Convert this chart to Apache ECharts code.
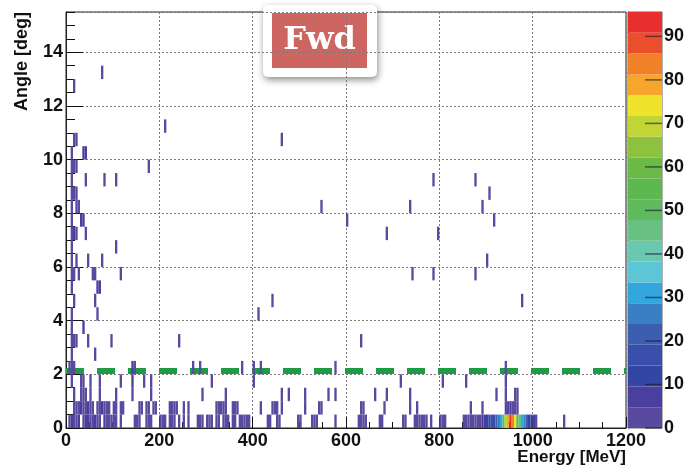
<!DOCTYPE html>
<html>
<head>
<meta charset="utf-8">
<script src="https://cdn.jsdelivr.net/npm/echarts@6/dist/echarts.min.js"></script>
<style>
  html, body { margin: 0; padding: 0; background: #fff; }
  #chart { width: 688px; height: 472px; }
</style>
</head>
<body>
<div id="chart"></div>
<script>
// ---- binning of the 2D histogram ----
const E_MIN = 0, E_MAX = 1200, E_BIN = 5;      // energy [MeV]
const A_MIN = 0, A_MAX = 15.5, A_BIN = 0.5;    // angle [deg]
const Z_MAX = 95.6, N_CONTOURS = 20;           // colour scale
const CUT_ANGLE = 2.12;                        // dashed selection line

const energyTickStep = 200;
const angleTickStep = 2;
const zTicks = [0, 10, 20, 30, 40, 50, 60, 70, 80, 90];

// palette, lowest contour first
const palette = [
  '#5a4a9f', '#4a3f9f', '#3346a3', '#3a4fab', '#3d5db1',
  '#3a7fc3', '#33a6dd', '#5cc6d7', '#6ac8b0', '#68c083',
  '#5fba5e', '#5db850', '#6cba46', '#8ec23e', '#c2d536',
  '#efe32c', '#f6a62a', '#f18128', '#eb4e2c', '#e7302e'
];

// ---- bin contents: per angle bin, [energy bin low edge, counts] ----
const ang00 = [[5,3],[10,5],[15,4],[20,3],[25,6],[35,4],[40,7],[45,5],[50,3],[55,4],[60,6],[65,3],[70,4],[80,5],[85,3],[90,4],[95,2],[100,3],[105,2],[115,2],
  [145,2],[150,3],[155,2],[170,3],[175,2],[180,2],[200,3],[205,2],[210,3],[220,2],[225,2],[230,3],[240,2],[250,3],[260,2],[280,2],[285,3],[290,2],[300,2],[305,3],[310,2],
  [320,3],[325,2],[335,2],[340,3],[345,2],[355,3],[360,2],[370,3],[375,2],[380,3],[385,3],[390,2],[430,3],[435,2],[450,1],[455,2],[495,1],[500,2],[525,3],[530,2],[535,3],
  [575,2],[625,2],[630,3],[635,2],[640,2],[670,3],[675,2],[720,3],[725,2],[745,3],[750,2],[755,3],[760,2],[765,3],[770,2],[780,3],[800,2],[805,3],[810,2],
  [850,3],[855,3],[860,4],[865,3],[870,4],[875,4],[880,4],[885,4],[890,7],[895,8],[900,11],[905,13],[910,15],[915,17],[920,21],[925,27],[930,32],[935,50],
  [940,68],[945,80],[950,93],[955,82],[960,73],[965,55],[970,45],[975,31],[980,26],[985,20],[990,14],[995,10],[1000,6],[1005,4],[1065,2]];
const ang05 = [[15,3],[20,4],[25,3],[30,5],[35,4],[40,3],[45,6],[50,4],[55,3],[65,4],[70,3],[75,5],[80,4],[85,3],[90,3],[100,2],[105,3],[115,2],[120,2],
  [155,2],[160,3],[170,2],[175,3],[185,1],[190,2],[220,3],[225,2],[230,3],[235,2],[250,2],[260,2],[320,3],[325,2],[330,3],[335,2],[340,3],[355,2],[360,3],[365,2],
  [415,1],[440,2],[445,2],[450,1],[460,2],[510,2],[540,2],[545,1],[630,2],[635,2],[680,2],[735,2],[750,2],[865,2],[890,2],[940,3],[945,4],[950,6],[955,4],[960,3],[965,1]];
const ang10 = [[15,2],[30,3],[35,2],[40,2],[50,3],[70,2],[105,2],[140,2],[180,1],[290,2],[340,2],[460,2],[475,2],[510,2],[560,2],[575,2],[660,1],[685,2],[735,2],[920,1],[940,2],[960,2],[965,1]];
const ang15 = [[10,2],[30,3],[35,2],[50,2],[70,2],[115,2],[140,6],[165,2],[180,2],[310,2],[400,2],[715,2],[805,2],[855,2],[940,2]];
const ang20 = [[5,2],[10,3],[15,2],[140,6],[145,2],[270,2],[285,2],[375,2],[400,3],[415,2],[575,3],[940,2]];
const ang25 = [[10,2],[60,2]];
const ang30 = [[10,2],[15,2],[20,2],[45,2],[95,2],[240,1],[630,2]];
const ang35 = [[10,2],[35,6]];
const ang40 = [[10,2],[65,2],[410,1]];
const ang45 = [[15,2],[60,2],[440,1],[975,1]];
const ang50 = [[10,2],[65,6],[70,6]];
const ang55 = [[10,2],[15,2],[25,2],[55,1],[60,2],[115,1],[740,2],[785,2],[875,2]];
const ang60 = [[10,2],[20,2],[45,2],[75,1],[900,1]];
const ang65 = [[10,2],[105,2]];
const ang70 = [[10,2],[15,6],[20,3],[40,2],[685,1],[795,2]];
const ang75 = [[10,2],[30,6],[35,6],[600,2],[915,2]];
const ang80 = [[10,2],[20,2],[25,2],[545,2],[735,1],[890,2]];
const ang85 = [[10,2],[15,2],[20,2],[905,1]];
const ang90 = [[10,2],[40,2],[80,2],[105,2],[785,2],[875,2]];
const ang95 = [[10,2],[15,2],[20,2],[175,2]];
const ang100 = [[10,2],[35,7],[40,7]];
const ang105 = [[15,2],[20,2],[460,2]];
const ang110 = [[210,1]];
const ang125 = [[15,2]];
const ang130 = [[75,1]];

const angleRows = [
  [0.0, ang00], [0.5, ang05], [1.0, ang10], [1.5, ang15], [2.0, ang20], [2.5, ang25],
  [3.0, ang30], [3.5, ang35], [4.0, ang40], [4.5, ang45], [5.0, ang50], [5.5, ang55],
  [6.0, ang60], [6.5, ang65], [7.0, ang70], [7.5, ang75], [8.0, ang80], [8.5, ang85],
  [9.0, ang90], [9.5, ang95], [10.0, ang100], [10.5, ang105], [11.0, ang110],
  [12.5, ang125], [13.0, ang130]
];

// flatten into [energy, angle, counts]
const cells = [];
angleRows.forEach(([a, list]) => list.forEach(([e, n]) => cells.push([e, a, n])));

const contourStep = Z_MAX / N_CONTOURS;
function colourFor(n) {
  return palette[Math.max(0, Math.min(N_CONTOURS - 1, Math.floor(n / contourStep)))];
}
const contourBands = palette.map((c, i) => [i]);

const labelFont = { fontFamily: 'Liberation Sans, Arial, sans-serif', fontWeight: 'bold', fontSize: 18, color: '#111' };
const gridDots = { color: '#7a7a7a', width: 1, type: [2, 2] };

const chart = echarts.init(document.getElementById('chart'), null, { renderer: 'canvas' });
chart.setOption({
  animation: false,
  backgroundColor: '#fff',
  grid: [
    { left: 66, top: 12, width: 560, height: 416, show: true, borderColor: '#222', borderWidth: 1, backgroundColor: 'transparent' },
    { left: 628, top: 12, width: 34, height: 416, show: true, borderColor: '#666', borderWidth: 1, backgroundColor: 'transparent' }
  ],
  xAxis: [
    {
      gridIndex: 0, type: 'value', min: E_MIN, max: E_MAX, interval: energyTickStep,
      axisLine: { show: true, lineStyle: { color: '#222', width: 1 } },
      axisTick: { show: true, inside: true, length: 11, lineStyle: { color: '#111', width: 1 } },
      minorTick: { show: true, splitNumber: 4, length: 6, lineStyle: { color: '#111', width: 1 } },
      axisLabel: Object.assign({ margin: 4, formatter: v => String(v) }, labelFont),
      splitLine: { show: true, lineStyle: gridDots }
    },
    {
      gridIndex: 1, type: 'value', min: 0, max: 1, show: false
    }
  ],
  yAxis: [
    {
      gridIndex: 0, type: 'value', min: A_MIN, max: A_MAX, interval: angleTickStep,
      axisLine: { show: true, lineStyle: { color: '#222', width: 1 } },
      axisTick: { show: true, inside: true, length: 17, lineStyle: { color: '#111', width: 1 } },
      axisLabel: Object.assign({ margin: 3, showMaxLabel: false }, labelFont),
      splitLine: { show: true, lineStyle: gridDots }
    },
    {
      gridIndex: 0, type: 'value', min: A_MIN, max: A_MAX, interval: A_BIN, position: 'left',
      axisLine: { show: false },
      axisTick: { show: true, inside: true, length: 9, lineStyle: { color: '#111', width: 1 } },
      axisLabel: { show: false },
      splitLine: { show: false }
    },
    {
      gridIndex: 1, type: 'value', min: 0, max: Z_MAX, interval: 10, position: 'right',
      axisLine: { show: true, lineStyle: { color: '#555', width: 1 } },
      axisTick: { show: false },
      axisLabel: Object.assign({ margin: 2, showMaxLabel: false }, labelFont),
      splitLine: { show: false }
    }
  ],
  series: [
    {
      // dashed selection cut
      type: 'line', xAxisIndex: 0, yAxisIndex: 0, z: 2,
      data: [[E_MIN, CUT_ANGLE], [E_MAX, CUT_ANGLE]],
      symbol: 'none', silent: true,
      lineStyle: { color: '#1f9a46', width: 6, type: [18, 13], cap: 'butt' }
    },
    {
      // histogram cells
      type: 'custom', xAxisIndex: 0, yAxisIndex: 0, z: 3,
      data: cells,
      encode: { x: 0, y: 1 },
      renderItem: function (params, api) {
        const e = api.value(0), a = api.value(1), n = api.value(2);
        const p0 = api.coord([e, a + A_BIN]);
        const p1 = api.coord([e + E_BIN, a]);
        return {
          type: 'rect',
          shape: { x: p0[0], y: p0[1], width: p1[0] - p0[0], height: p1[1] - p0[1] },
          style: { fill: colourFor(n) }
        };
      }
    },
    {
      // colour scale bands
      type: 'custom', xAxisIndex: 1, yAxisIndex: 2, z: 1,
      data: contourBands,
      renderItem: function (params, api) {
        const i = api.value(0);
        const p0 = api.coord([0, (i + 1) * contourStep]);
        const p1 = api.coord([1, i * contourStep]);
        return {
          type: 'rect',
          shape: { x: p0[0], y: p0[1], width: p1[0] - p0[0], height: p1[1] - p0[1] },
          style: { fill: palette[i] }
        };
      }
    },
    {
      // colour scale tick marks, pointing in from the right edge
      type: 'custom', xAxisIndex: 1, yAxisIndex: 2, z: 2,
      data: zTicks.map(v => [v]),
      renderItem: function (params, api) {
        const p = api.coord([1, api.value(0)]);
        return {
          type: 'line',
          shape: { x1: p[0] - 17, y1: p[1], x2: p[0], y2: p[1] },
          style: { stroke: 'rgba(20,20,50,0.6)', lineWidth: 1.5 }
        };
      }
    }
  ],
  graphic: [
    {
      type: 'text', x: 626, y: 449, z: 10,
      style: { text: 'Energy [MeV]', fill: '#111', font: 'bold 17px "Liberation Sans", Arial, sans-serif', align: 'right', verticalAlign: 'top' }
    },
    {
      type: 'text', x: 22, y: 12, rotation: Math.PI / 2, z: 10,
      style: { text: 'Angle [deg]', fill: '#111', font: 'bold 18px "Liberation Sans", Arial, sans-serif', align: 'right', verticalAlign: 'middle' }
    },
    {
      type: 'group', x: 263, y: 5, z: 20,
      children: [
        {
          type: 'rect', shape: { x: 0, y: 0, width: 114, height: 72, r: 5 },
          style: { fill: '#fff', shadowBlur: 7, shadowOffsetX: 1, shadowOffsetY: 3, shadowColor: 'rgba(0,0,0,0.45)' }
        },
        {
          type: 'rect', shape: { x: 9, y: 8, width: 95, height: 55 },
          style: { fill: '#cd6661' }
        },
        {
          type: 'text', x: 56.5, y: 36,
          style: { text: 'Fwd', fill: '#fff', font: 'bold 32px "DejaVu Serif", serif', align: 'center', verticalAlign: 'middle' }
        }
      ]
    }
  ]
});
</script>
</body>
</html>
